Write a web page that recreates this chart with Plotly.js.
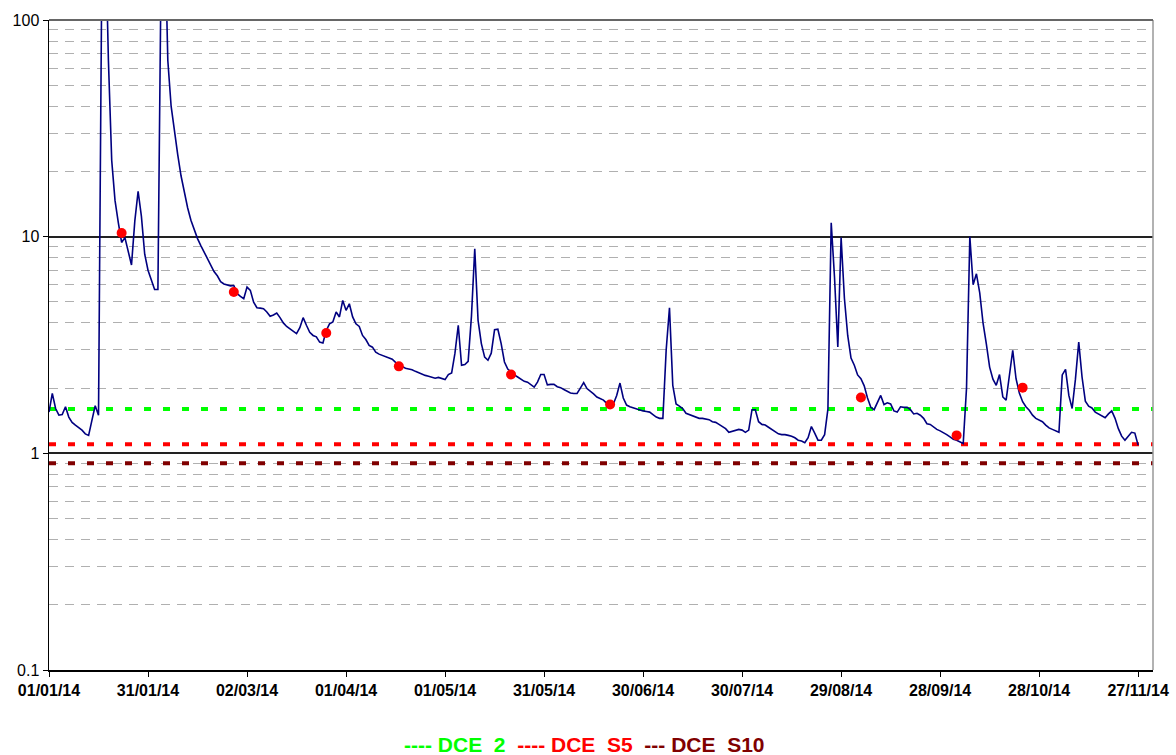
<!DOCTYPE html>
<html>
<head>
<meta charset="utf-8">
<script src="https://cdn.plot.ly/plotly-3.0.1.min.js"></script>
<style>html,body{margin:0;padding:0;background:#fff;}#chart{width:1176px;height:755px;}</style>
</head>
<body>
<div id="chart"></div>
<script>
// Days since 01/01/14 for the daily series
const dayOffset = [0,1,2,3,4,5,6,7,8,10,11,12,13,14,15,16,17,18,19,20,21,22,23,24,25,26,27,28,29,30,
31,32,33,34,35,36,37,38,39,40,41,42,43,44,45,46,47,48,49,50,51,52,53,54,55,56,57,58,59,60,
61,62,63,64,65,66,67,68,69,70,71,72,73,74,75,76,77,78,79,80,81,82,83,84,85,86,87,88,89,90,
91,92,93,94,95,96,97,98,99,100,101,102,103,104,105,106,107,108,109,110,111,112,113,114,115,116,117,118,119,120,
121,122,123,124,125,126,127,128,129,130,131,132,133,134,135,136,137,138,139,140,141,142,143,144,145,146,147,148,149,150,
151,152,153,154,155,156,157,158,159,160,161,162,163,164,165,166,167,168,169,170,171,172,173,174,175,176,177,178,179,180,
181,182,183,184,185,186,187,188,189,190,191,192,193,194,195,196,197,198,199,200,201,202,203,204,205,206,207,208,209,210,
211,212,213,214,215,216,217,218,219,220,221,222,223,224,225,226,227,228,229,230,231,232,233,234,235,236,237,238,239,240,
241,242,243,244,245,246,247,248,249,250,251,252,253,254,255,256,257,258,259,260,261,262,263,264,265,266,267,268,269,270,
271,272,273,274,275,276,277,278,279,280,281,282,283,284,285,286,287,288,289,290,291,292,293,294,295,296,297,298,299,300,
301,302,303,304,305,306,307,308,309,310,311,312,313,314,315,316,317,318,319,320,321,322,323,324,325,326,327,328,329,330];

const flow = [1.55,1.89,1.61,1.50,1.51,1.64,1.47,1.39,1.35,1.28,1.23,1.21,1.42,1.66,1.50,165,300,65,22.5,14.7,11.6,9.4,9.9,8.5,7.4,11.8,16.2,12.4,8.3,7.0,
6.3,5.7,5.7,200,300,65,40,30.5,23.9,19.1,15.8,13.6,11.9,10.7,9.8,9.1,8.5,7.9,7.3,6.9,6.6,6.2,6.05,6.0,5.93,5.95,5.46,5.3,5.17,5.85,
5.65,4.98,4.70,4.68,4.65,4.49,4.29,4.35,4.44,4.23,4.0,3.85,3.76,3.65,3.57,3.8,4.23,3.90,3.62,3.5,3.45,3.26,3.23,3.69,3.96,4.04,4.49,4.26,5.08,4.57,
4.90,4.26,3.96,3.85,3.50,3.35,3.15,3.09,2.93,2.87,2.83,2.80,2.75,2.72,2.63,2.56,2.52,2.47,2.45,2.43,2.39,2.35,2.31,2.29,2.27,2.24,2.22,2.24,2.22,2.19,
2.31,2.35,2.9,3.90,2.55,2.57,2.66,4.3,8.8,4.11,3.21,2.78,2.69,2.90,3.72,3.74,3.21,2.64,2.45,2.37,2.30,2.25,2.19,2.15,2.13,2.07,2.02,2.13,2.31,2.31,
2.07,2.08,2.08,2.03,2.01,1.97,1.94,1.90,1.89,1.89,2.0,2.12,1.99,1.94,1.88,1.82,1.79,1.76,1.70,1.69,1.69,1.85,2.11,1.80,1.67,1.64,1.62,1.60,1.58,1.57,
1.56,1.55,1.51,1.47,1.45,1.45,3.0,4.7,2.06,1.69,1.65,1.61,1.53,1.51,1.49,1.47,1.45,1.45,1.44,1.43,1.40,1.39,1.36,1.33,1.30,1.25,1.26,1.28,1.29,1.28,
1.25,1.28,1.59,1.59,1.40,1.36,1.35,1.32,1.29,1.26,1.23,1.22,1.22,1.21,1.20,1.18,1.15,1.14,1.12,1.18,1.33,1.24,1.15,1.15,1.22,1.6,11.6,6.5,3.1,9.9,
5.2,3.5,2.75,2.55,2.3,2.21,2.05,1.8,1.63,1.59,1.72,1.85,1.68,1.71,1.69,1.57,1.55,1.64,1.63,1.63,1.59,1.52,1.53,1.50,1.45,1.37,1.36,1.32,1.29,1.27,
1.25,1.22,1.19,1.16,1.15,1.13,1.11,2.0,10.0,6.0,6.74,5.5,4.0,3.2,2.5,2.2,2.06,2.31,1.82,1.76,2.3,2.99,2.21,1.90,1.73,1.64,1.58,1.50,1.45,1.43,
1.40,1.35,1.31,1.29,1.27,1.25,2.3,2.44,1.85,1.61,2.2,3.26,2.25,1.74,1.65,1.62,1.55,1.52,1.48,1.46,1.52,1.57,1.45,1.30,1.20,1.15,1.20,1.25,1.24,1.09];

// Spot samples (red dots)
const sampleDay = [22,56,84,106,140,170,246,275,295];
const sampleValue = [10.4,5.55,3.59,2.52,2.31,1.68,1.81,1.21,2.01];

// Threshold lines
const thresholdNames = ['DCE  2','DCE  S5','DCE  S10'];
const thresholdValues = [1.6,1.1,0.9];
const thresholdColors = ['#00ff00','#ff0000','#800000'];

const yTickVals = [0.1,1,10,100];
const yTickText = ['0.1','1','10','100'];

const xStart = '2014-01-01';
const xEnd = '2014-12-01 12:00';

function toDate(d){
  return new Date(Date.UTC(2014,0,1) + d*86400000).toISOString().slice(0,10);
}

const traces = [];
thresholdValues.forEach((v,i)=>{
  traces.push({
    x:[xStart,xEnd], y:[v,v], mode:'lines', type:'scatter',
    line:{color:thresholdColors[i], width:4, dash:'7px,12px'},
    hoverinfo:'skip', showlegend:false, cliponaxis:true
  });
});
traces.push({
  x: dayOffset.map(toDate), y: flow, mode:'lines', type:'scatter',
  line:{color:'#000080', width:1.6}, showlegend:false
});
traces.push({
  x: sampleDay.map(toDate), y: sampleValue, mode:'markers', type:'scatter',
  marker:{color:'#ff0000', size:10}, showlegend:false
});

const minorVals = [];
[0.1,1,10].forEach(b=>{ for(let k=2;k<=9;k++) minorVals.push(+(b*k).toFixed(3)); });

const legendText = thresholdNames.map((n,i)=>
  `<span style="color:${thresholdColors[i]}">${i===2?'---':'----'} ${n.replace('  ','&nbsp;&nbsp;')}</span>`
).join('&nbsp;&nbsp;');

const layout = {
  width:1176, height:755,
  margin:{l:49, r:23, t:20, b:85},
  paper_bgcolor:'#ffffff', plot_bgcolor:'#ffffff',
  font:{family:'Liberation Sans, Arial, sans-serif', color:'#000'},
  xaxis:{
    type:'date', range:[xStart,xEnd],
    tick0:'2014-01-01', dtick:30*86400000, tickformat:'%d/%m/%y',
    tickfont:{size:16, weight:'bold', color:'#000'},
    ticks:'outside', ticklen:5, tickcolor:'#000',
    showgrid:false, showline:true, linecolor:'#000', linewidth:2,
    zeroline:false, fixedrange:true
  },
  yaxis:{
    type:'log', range:[-1,2],
    tickmode:'array', tickvals:yTickVals, ticktext:yTickText,
    tickfont:{size:16, color:'#000'},
    ticks:'outside', ticklen:5, tickcolor:'#000',
    showgrid:true, gridcolor:'#222222', gridwidth:2,
    showline:true, linecolor:'#000', linewidth:1.5,
    minor:{tickmode:'array', tickvals:minorVals, showgrid:true, gridcolor:'#b0b0b0', griddash:'9px,7px', gridwidth:1, ticks:''},
    zeroline:false, fixedrange:true
  },
  shapes:[
    {type:'line', xref:'paper', yref:'paper', x0:1, x1:1, y0:0, y1:1, line:{color:'#999', width:1.5}},
    {type:'line', xref:'paper', yref:'paper', x0:0, x1:1, y0:1, y1:1, line:{color:'#666', width:2}}
  ],
  annotations:[{
    xref:'paper', yref:'paper', x:0.485, y:-0.115, xanchor:'center', yanchor:'middle',
    text:legendText, showarrow:false,
    font:{size:21, weight:'bold', family:'Liberation Sans, Arial, sans-serif'}
  }]
};

Plotly.newPlot('chart', traces, layout, {displayModeBar:false, staticPlot:true});
</script>
</body>
</html>
